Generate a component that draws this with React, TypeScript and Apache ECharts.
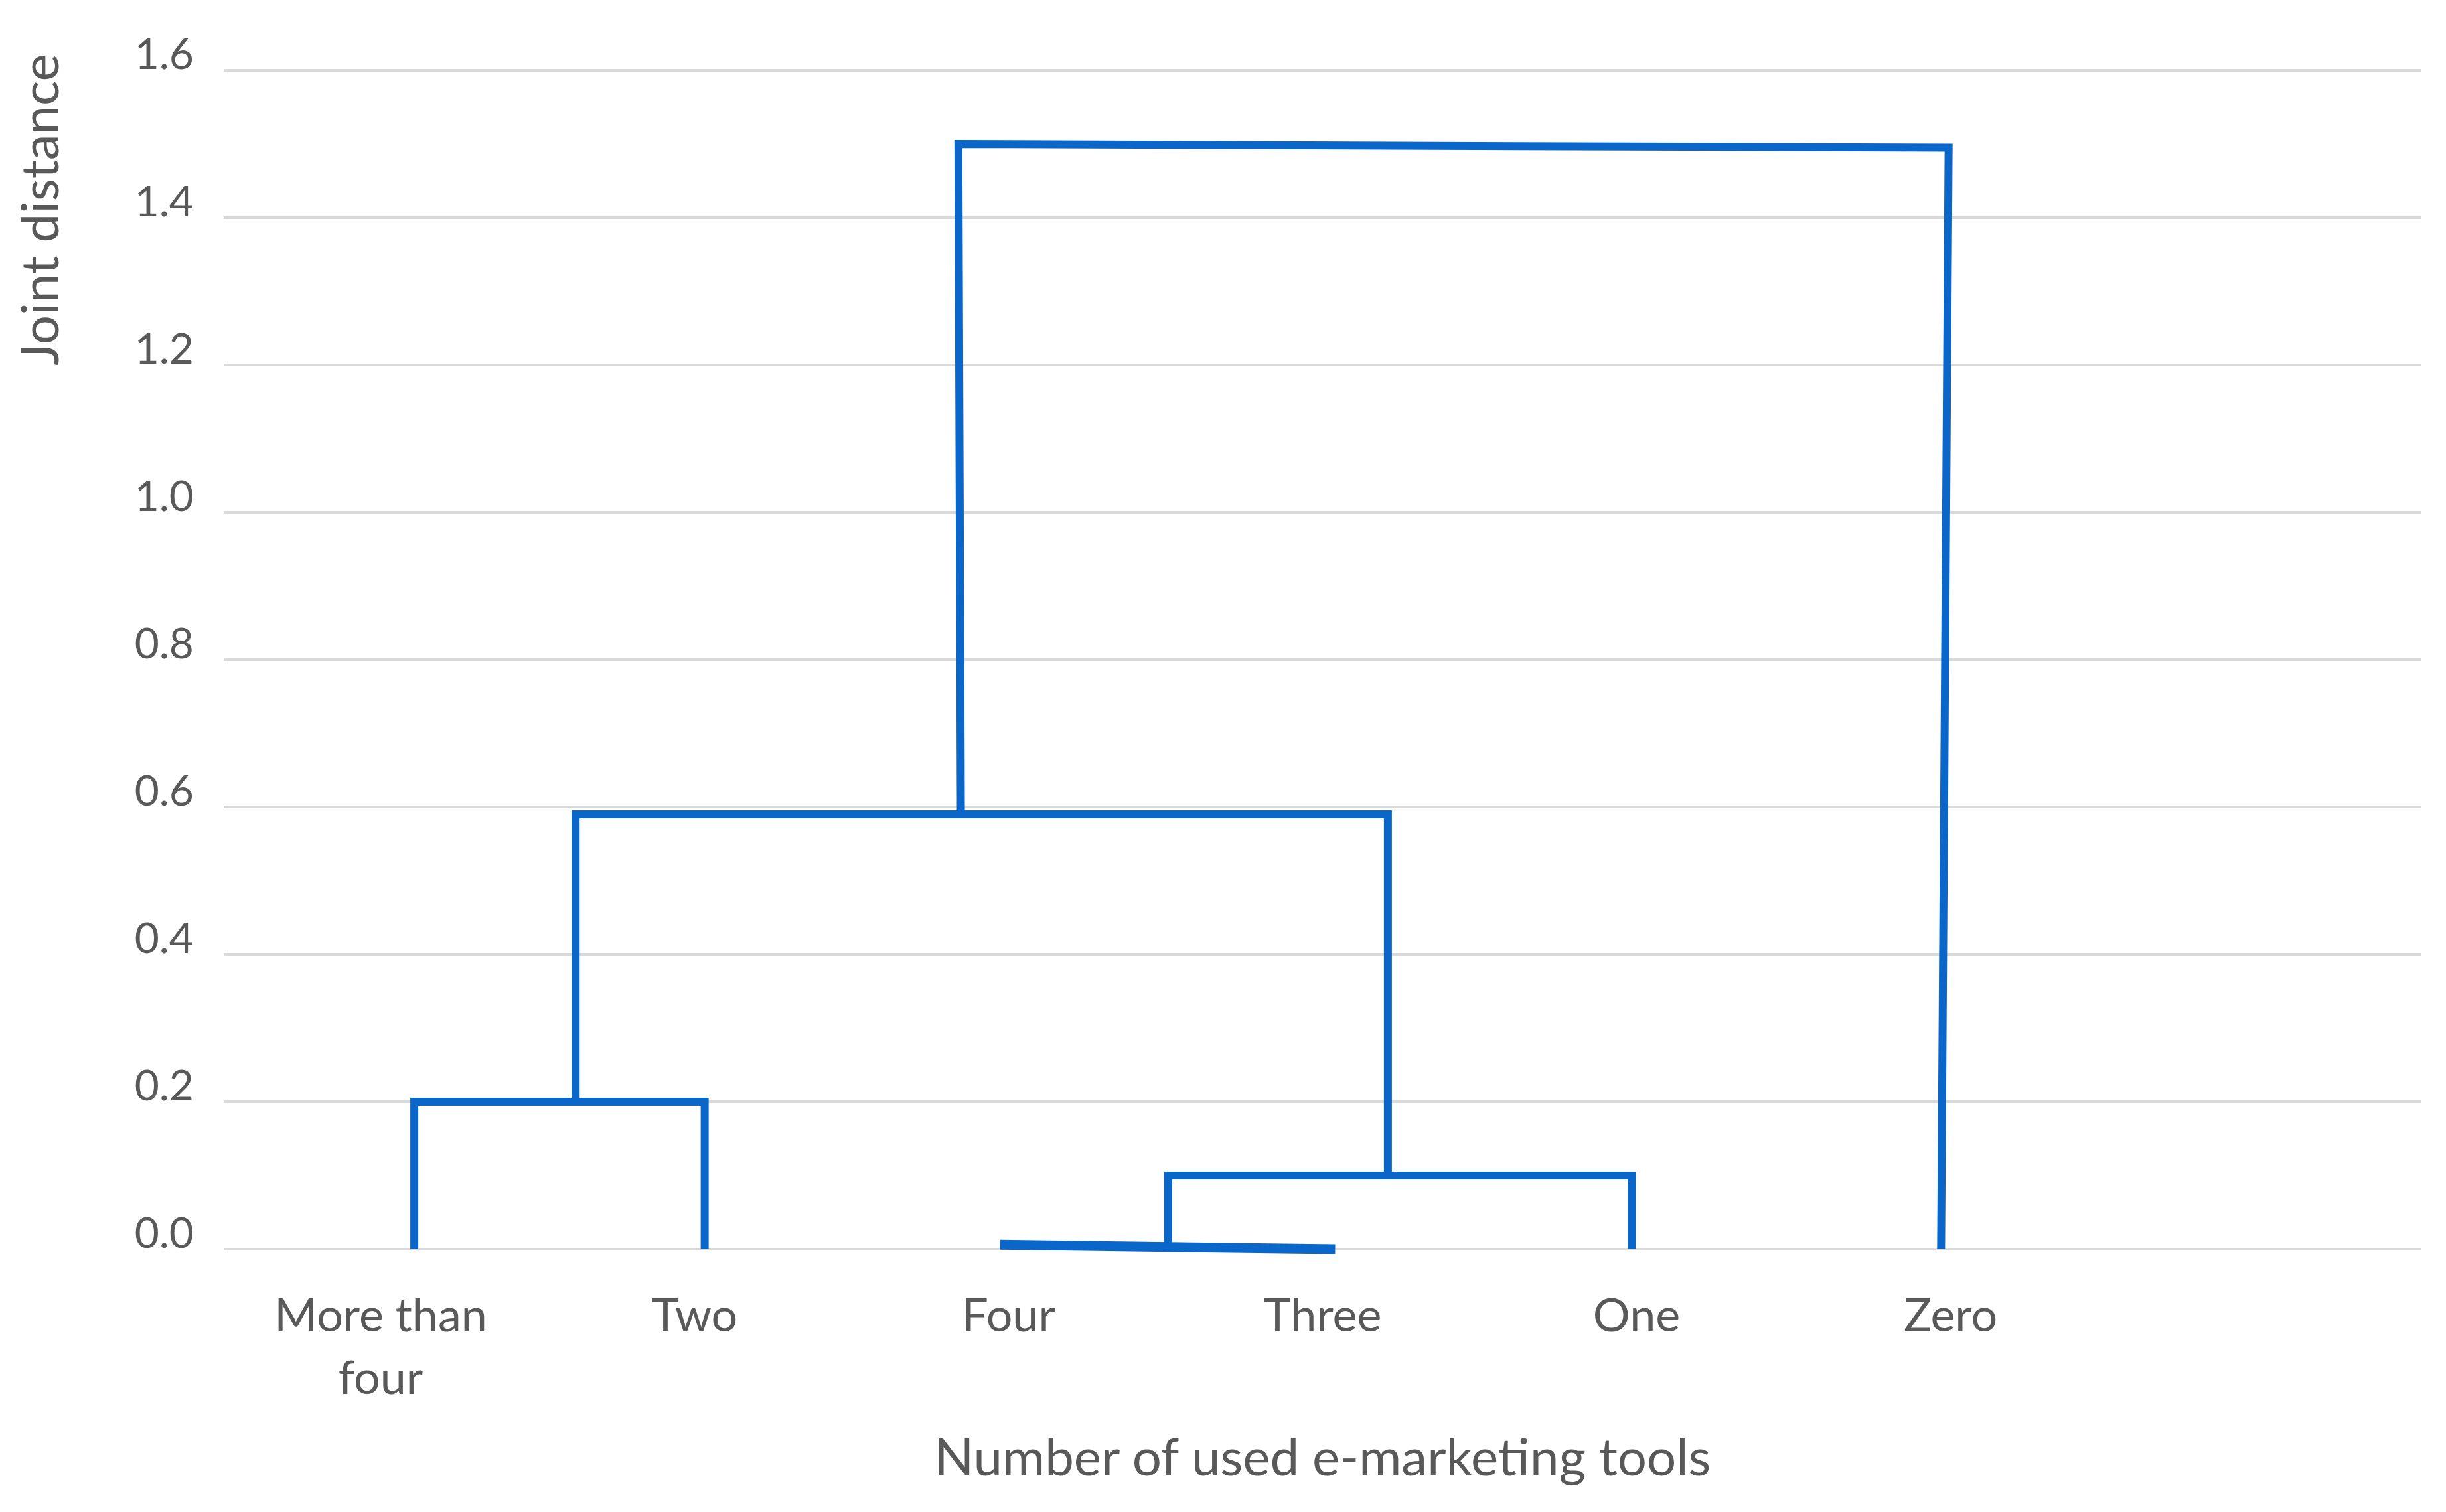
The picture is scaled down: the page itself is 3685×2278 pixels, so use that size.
import React, { useEffect, useRef } from "react";
import * as echarts from "echarts";

// Leaf order along the x axis (last band is empty in the original)
const categories = ["More than\nfour", "Two", "Four", "Three", "One", "Zero", ""];

// Y axis (joint distance)
const yMin = 0;
const yMax = 1.6;
const yStep = 0.2;

// Dendrogram links: [position along the leaf axis (band units), joint distance]
const linkMoreThanFourTwo = [[0.607, 0], [0.607, 0.2], [1.532, 0.2], [1.532, 0]];
const linkFourThree = [[2.473, 0.006], [3.54, 0]];
const linkFourThreeOne = [[3.008, 0.003], [3.008, 0.1], [4.485, 0.1], [4.485, 0]];
const linkLeftMiddle = [[1.121, 0.2], [1.121, 0.59], [3.708, 0.59], [3.708, 0.1]];
const linkRoot = [[2.348, 0.59], [2.34, 1.5], [5.494, 1.495], [5.47, 0]];

const lineColor = "#0A66C8";
const textColor = "#595959";
const gridColor = "#D9D9D9";
const font = "Lato";

const links = [
  { data: linkMoreThanFourTwo, width: 12 },
  { data: linkFourThree, width: 15 },
  { data: linkFourThreeOne, width: 12 },
  { data: linkLeftMiddle, width: 12 },
  { data: linkRoot, width: 12 },
];

export default function App() {
  const ref = useRef<HTMLDivElement>(null);
  useEffect(() => {
    if (!ref.current) return;
    const chart = echarts.init(ref.current, null, { renderer: "svg" });
    chart.setOption({
      animation: false,
      backgroundColor: "#FFFFFF",
      grid: { left: 337, right: 37, top: 106, bottom: 396 },
      xAxis: [
        {
          type: "category",
          data: categories,
          boundaryGap: true,
          axisLine: { show: false },
          axisTick: { show: false },
          splitLine: { show: false },
          axisLabel: {
            interval: 0,
            color: textColor,
            fontFamily: font,
            fontSize: 70,
            lineHeight: 94,
            margin: 50,
          },
          name: "Number of used e-marketing tools",
          nameLocation: "middle",
          nameGap: 272,
          nameTextStyle: { color: textColor, fontFamily: font, fontSize: 78 },
        },
        { type: "value", min: 0, max: 7, show: false },
      ],
      yAxis: {
        type: "value",
        min: yMin,
        max: yMax,
        interval: yStep,
        axisLine: { show: false },
        axisTick: { show: false },
        splitLine: { show: true, lineStyle: { color: gridColor, width: 4 } },
        axisLabel: {
          color: textColor,
          fontFamily: font,
          fontSize: 64,
          margin: 45,
          verticalAlign: "bottom",
          lineHeight: 54,
          formatter: (v: number) => v.toFixed(1),
        },
      },
      graphic: [
        {
          type: "text",
          x: 58,
          y: 316,
          rotation: Math.PI / 2,
          style: {
            text: "Joint distance",
            fill: textColor,
            fontFamily: font,
            fontSize: 78,
            align: "center",
            verticalAlign: "middle",
            textAlign: "center",
            textVerticalAlign: "middle",
          },
        },
      ],
      series: links.map((l) => ({
        type: "line",
        xAxisIndex: 1,
        yAxisIndex: 0,
        data: l.data,
        symbol: "none",
        showSymbol: false,
        silent: true,
        clip: false,
        lineStyle: { color: lineColor, width: l.width, join: "miter", cap: "butt" },
      })),
    });
    return () => chart.dispose();
  }, []);
  return (
    <div
      ref={ref}
      style={{ position: "absolute", left: 0, top: 0, width: 3685, height: 2278 }}
    />
  );
}
